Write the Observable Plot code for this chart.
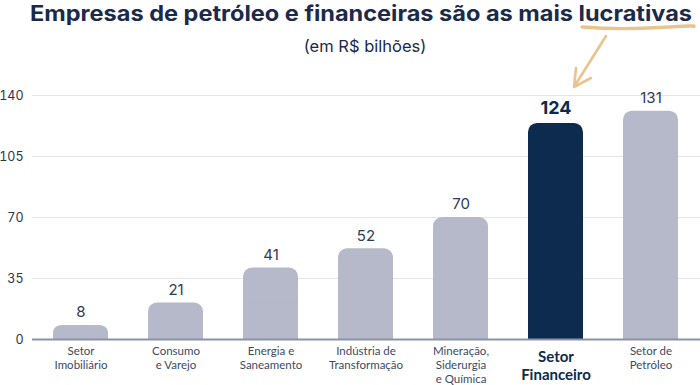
<!DOCTYPE html>
<html>
<head>
<meta charset="utf-8">
<script src="https://cdn.jsdelivr.net/npm/d3@7"></script>
<script src="https://cdn.jsdelivr.net/npm/@observablehq/plot@0.6"></script>
<style>
  html, body { margin: 0; padding: 0; background: #fff; }
  #wrap { position: relative; width: 700px; height: 385px; overflow: hidden; }
  #overlay { position: absolute; left: 0; top: 0; pointer-events: none; }
</style>
</head>
<body>
<div id="wrap">
  <div id="chart"></div>
  <svg id="overlay" width="700" height="385">
    <text x="361" y="21" text-anchor="middle" textLength="662" lengthAdjust="spacingAndGlyphs"
      font-family="Inter, 'Noto Sans', sans-serif" font-weight="700" font-size="21" fill="#1b2a4a">Empresas de petróleo e financeiras são as mais lucrativas</text>
    <text x="365" y="52" text-anchor="middle"
      font-family="Inter, 'Noto Sans', sans-serif" font-weight="400" font-size="16.5" fill="#1b2a4a">(em R$ bilhões)</text>
    <path d="M582 27 Q 620 30 660 27.5 T 693 26.5" fill="none" stroke="#e9c48f" stroke-width="3.4" stroke-linecap="round"/>
    <path d="M606 36 L 574 87 M 574 87 L 576 68 M 574 87 L 591 78" fill="none" stroke="#e9c48f" stroke-width="2.6" stroke-linecap="round" stroke-linejoin="round"/>
  </svg>
</div>
<script>
const categories = [
  "Setor\nImobiliário",
  "Consumo\ne Varejo",
  "Energia e\nSaneamento",
  "Indústria de\nTransformação",
  "Mineração,\nSiderurgia\ne Química",
  "Setor\nFinanceiro",
  "Setor de\nPetróleo"
];
const values = [8, 21, 41, 52, 70, 124, 131];
const highlight = "Setor\nFinanceiro";
const yTicks = [0, 35, 70, 105, 140];

const data = categories.map((c, i) => ({ cat: c, v: values[i], hi: c === highlight }));
const normal = data.filter(d => !d.hi);
const hiData = data.filter(d => d.hi);

const gray = "#b6b9c9";
const navy = "#0d2b4e";
const font = "Inter, 'Noto Sans', sans-serif";
const labelFont = "Lato, 'Open Sans', sans-serif";

const chart = Plot.plot({
  width: 700,
  height: 385,
  marginTop: 95,
  marginBottom: 46,
  marginLeft: 32,
  marginRight: 0,
  style: { fontFamily: font, background: "#fff" },
  x: { domain: categories, paddingInner: 0.42, paddingOuter: 0.21, axis: null },
  y: { domain: [0, 140], axis: null },
  marks: [
    Plot.gridY(yTicks, { stroke: "#e4e5ea", strokeOpacity: 1, strokeWidth: 1.2 }),
    Plot.axisY({ ticks: yTicks, tickSize: 0, tickPadding: 9, fontSize: 12.5, color: "#2a3550", label: null }),
    Plot.barY(data, { x: "cat", y: "v", rx: 9, fill: d => d.hi ? navy : gray }),
    Plot.barY(data, { x: "cat", y1: 0, y2: d => d.v / 2, fill: d => d.hi ? navy : gray }),
    Plot.ruleY([0], { stroke: "#8a93a8", strokeWidth: 2 }),
    Plot.text(normal, { x: "cat", y: "v", text: d => String(d.v), dy: -13, fontSize: 15, fill: "#2e3a5a", fontFamily: font }),
    Plot.text(hiData, { x: "cat", y: "v", text: d => String(d.v), dy: -15, fontSize: 18, fontWeight: 700, fill: navy, fontFamily: font }),
    Plot.text(normal, { x: "cat", y: 0, text: "cat", dy: 6, lineAnchor: "top", lineHeight: 1.2, fontSize: 11.5, fill: "#3d4a66", fontFamily: labelFont }),
    Plot.text(hiData, { x: "cat", y: 0, text: "cat", dy: 9, lineAnchor: "top", lineHeight: 1.22, fontSize: 15, fontWeight: 700, fill: navy, fontFamily: labelFont })
  ]
});
document.getElementById("chart").appendChild(chart);
</script>
</body>
</html>
